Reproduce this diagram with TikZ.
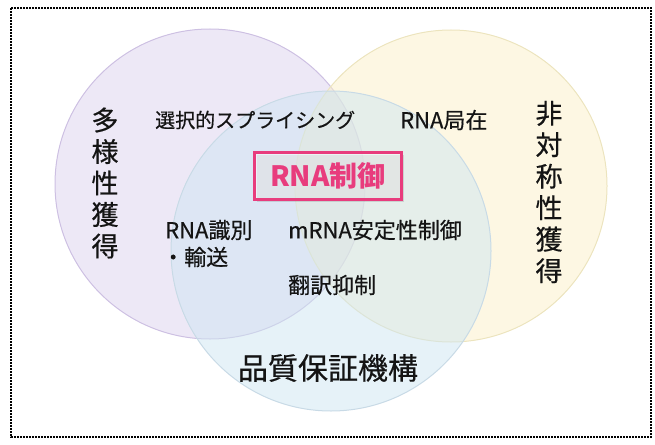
\documentclass[tikz,border=0pt]{standalone}
\usepackage{fontspec}
\setmainfont{Noto Sans CJK JP}
\newfontfamily\medfont[FakeBold=0.5]{Noto Sans CJK JP}
\usetikzlibrary{shadows}
\definecolor{purpfill}{RGB}{220,210,238}
\definecolor{purpedge}{RGB}{205,192,226}
\definecolor{yelfill}{RGB}{251,240,200}
\definecolor{yeledge}{RGB}{236,228,190}
\definecolor{bluefill}{RGB}{205,229,241}
\definecolor{blueedge}{RGB}{200,218,230}
\definecolor{pinkc}{RGB}{232,60,125}
\definecolor{txt}{RGB}{20,20,20}
\tikzset{
  setcircle/.style={line width=1pt, fill opacity=0.5},
  midtext/.style={text=txt, font=\medfont\fontsize{22}{26}\selectfont, inner sep=0pt},
  vertext/.style={text=txt, font=\medfont\fontsize{27}{31.5}\selectfont, align=center, inner sep=0pt},
  bigtext/.style={text=txt, font=\medfont\fontsize{30}{34}\selectfont, inner sep=0pt},
  keybox/.style={draw=pinkc, line width=2.6pt, fill=white, fill opacity=0.45, text opacity=1,
    text=pinkc, font=\fontsize{28}{32}\selectfont\bfseries, minimum width=147pt, minimum height=47pt,
    drop shadow={shadow xshift=2pt, shadow yshift=-2pt, opacity=0.25}},
  frame/.style={draw=black, line width=1.8pt, dash pattern=on 1.6pt off 1.4pt}
}
\begin{document}
\begin{tikzpicture}[x=1pt,y=-1pt]
\useasboundingbox (0,0) rectangle (655,444);
% circles
\filldraw[setcircle, fill=purpfill, draw=purpedge] (210,184) circle[radius=155pt];
\filldraw[setcircle, fill=yelfill, draw=yeledge] (451,186) circle[radius=156pt];
\filldraw[setcircle, fill=bluefill, draw=blueedge] (331,251) circle[radius=160pt];
% frame
\draw[frame] (11,8) rectangle (651,437);
% labels
\node[vertext] (diversity) at (105,183) {多\\様\\性\\獲\\得};
\node[vertext] (asym) at (549,192) {非\\対\\称\\性\\獲\\得};
\node[midtext, anchor=west, font=\medfont\fontsize{20}{24}\selectfont] (splice) at (155,120) {選択的スプライシング};
\node[midtext, anchor=west] (local) at (400,120) {RNA局在};
\node[keybox] (ctrl) at (328,176) {RNA制御};
\node[midtext, anchor=west] (recog) at (165,230) {RNA識別};
\node[midtext, anchor=west] (trans) at (162,257) {・輸送};
\node[midtext, anchor=west] (stab) at (288,230) {mRNA安定性制御};
\node[midtext, anchor=west] (repr) at (288,285) {翻訳抑制};
\node[bigtext] (qc) at (328,368) {品質保証機構};
\end{tikzpicture}
\end{document}
